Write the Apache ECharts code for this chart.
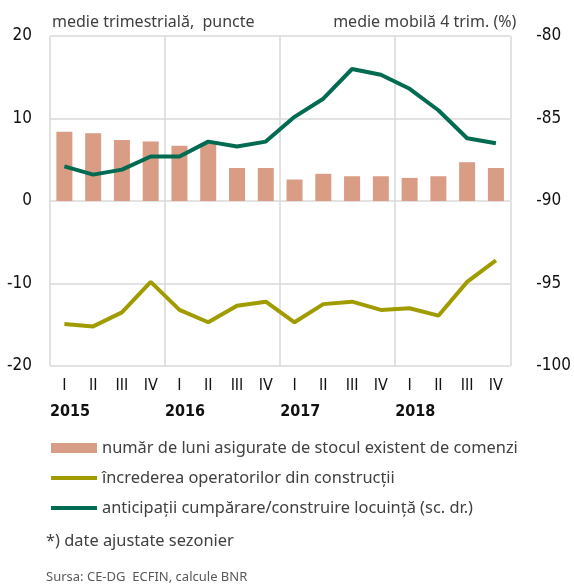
<!DOCTYPE html>
<html>
<head>
<meta charset="utf-8">
<script src="https://cdn.jsdelivr.net/npm/echarts@6/dist/echarts.min.js"></script>
<style>
  html, body { margin: 0; padding: 0; background: #fff; }
  #chart { width: 574px; height: 586px; }
</style>
</head>
<body>
<div id="chart"></div>
<script>
const quarters = ['I', 'II', 'III', 'IV', 'I', 'II', 'III', 'IV', 'I', 'II', 'III', 'IV', 'I', 'II', 'III', 'IV']
const years = ['2015', '', '', '', '2016', '', '', '', '2017', '', '', '', '2018', '', '', '', '']

const monthsOfOrders = [8.4, 8.2, 7.4, 7.2, 6.7, 7.0, 4.0, 4.0, 2.6, 3.3, 3.0, 3.0, 2.8, 3.0, 4.7, 4.0]
const constructionConfidence = [-14.9, -15.2, -13.5, -9.8, -13.2, -14.7, -12.7, -12.2, -14.7, -12.5, -12.2, -13.2, -13.0, -13.9, -9.8, -7.2]
const housingIntentions = [-87.9, -88.4, -88.1, -87.3, -87.3, -86.4, -86.7, -86.4, -84.9, -83.8, -82.0, -82.35, -83.2, -84.5, -86.2, -86.5]

const seriesNames = [
  'număr de luni asigurate de stocul existent de comenzi',
  'încrederea operatorilor din construcții',
  'anticipații cumpărare/construire locuință (sc. dr.)'
]

const condensed = '"Liberation Sans Narrow", "DejaVu Sans Condensed", "Noto Sans", sans-serif'
const textFont = '"Noto Sans", "Open Sans", sans-serif'
const gridColor = '#d9d9d9'
// thin bar used as legend icon for the two lines (keeps aspect inside 46x10)
const lineIcon = 'path://M0,0 H46 V4 H0 Z'

const chart = echarts.init(document.getElementById('chart'))

chart.setOption({
  animation: false,
  grid: { left: 50, right: 57, top: 36, bottom: 220 },
  legend: {
    orient: 'vertical',
    left: 46,
    top: 435,
    itemWidth: 46,
    itemHeight: 10,
    itemGap: 14,
    symbolKeepAspect: true,
    textStyle: { color: '#404040', fontFamily: textFont, fontSize: 16.4 },
    data: [
      { name: seriesNames[0], icon: 'rect' },
      { name: seriesNames[1], icon: lineIcon },
      { name: seriesNames[2], icon: lineIcon }
    ]
  },
  xAxis: [
    {
      type: 'category',
      data: quarters,
      boundaryGap: true,
      axisLine: { show: false },
      axisTick: { show: false },
      axisLabel: { interval: 0, margin: 12, color: '#111', fontFamily: condensed, fontSize: 16 },
      splitLine: { show: false }
    },
    {
      type: 'category',
      data: years,
      position: 'bottom',
      boundaryGap: false,
      axisLine: { show: false },
      axisTick: { show: false },
      axisLabel: { interval: 0, margin: 38, align: 'left', color: '#111', fontFamily: condensed, fontSize: 16, fontWeight: 'bold' },
      splitLine: { show: true, interval: 3, lineStyle: { color: gridColor, width: 1.5 } }
    }
  ],
  yAxis: [
    {
      type: 'value',
      min: -20,
      max: 20,
      interval: 10,
      name: 'medie trimestrială,  puncte',
      nameLocation: 'end',
      nameGap: 6,
      nameTextStyle: { align: 'left', color: '#404040', fontFamily: textFont, fontSize: 16, padding: [0, 0, 0, 2] },
      axisLine: { show: false },
      axisTick: { show: false },
      axisLabel: { margin: 18, color: '#111', fontFamily: condensed, fontSize: 17 },
      splitLine: { lineStyle: { color: gridColor, width: 1.5 } }
    },
    {
      type: 'value',
      min: -100,
      max: -80,
      interval: 5,
      position: 'right',
      name: 'medie mobilă 4 trim. (%)',
      nameLocation: 'end',
      nameGap: 6,
      nameTextStyle: { align: 'right', color: '#404040', fontFamily: textFont, fontSize: 16, padding: [0, -6, 0, 0] },
      axisLine: { show: false },
      axisTick: { show: false },
      axisLabel: { margin: 26, color: '#111', fontFamily: condensed, fontSize: 17 },
      splitLine: { show: false }
    }
  ],
  series: [
    {
      name: seriesNames[0],
      type: 'bar',
      xAxisIndex: 0,
      yAxisIndex: 0,
      barWidth: 16,
      itemStyle: { color: '#d99c84' },
      data: monthsOfOrders
    },
    {
      name: seriesNames[1],
      type: 'line',
      xAxisIndex: 0,
      yAxisIndex: 0,
      symbol: 'none',
      lineStyle: { width: 4, color: '#a09c00' },
      itemStyle: { color: '#a09c00' },
      data: constructionConfidence
    },
    {
      name: seriesNames[2],
      type: 'line',
      xAxisIndex: 0,
      yAxisIndex: 1,
      symbol: 'none',
      lineStyle: { width: 4, color: '#006b50' },
      itemStyle: { color: '#006b50' },
      data: housingIntentions
    }
  ],
  graphic: [
    {
      type: 'text',
      left: 46,
      top: 533,
      style: { text: '*) date ajustate sezonier', fill: '#404040', font: '16.4px "Noto Sans", sans-serif' }
    },
    {
      type: 'text',
      left: 46,
      top: 571,
      style: { text: 'Sursa: CE-DG  ECFIN, calcule BNR', fill: '#595959', font: '13px "Noto Sans", sans-serif' }
    }
  ]
})
</script>
</body>
</html>
